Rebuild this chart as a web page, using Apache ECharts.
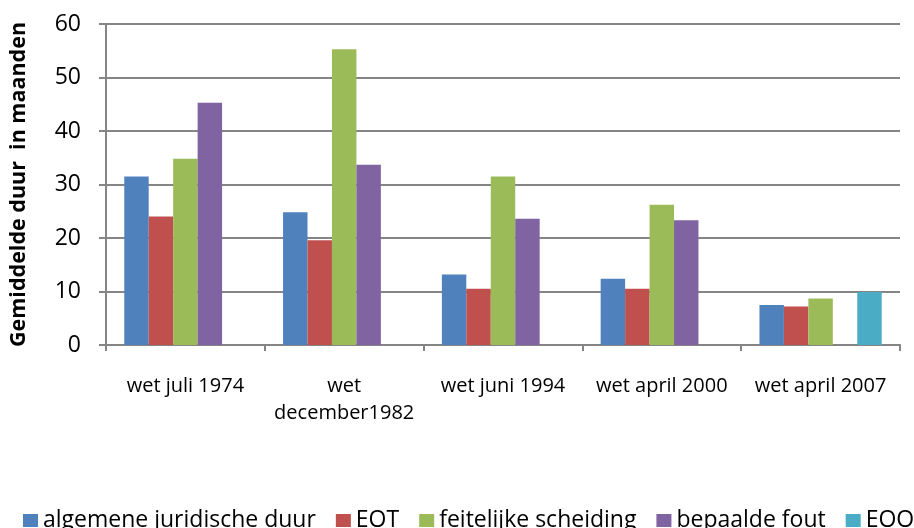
<!DOCTYPE html>
<html>
<head>
<meta charset="utf-8">
<script src="https://cdn.jsdelivr.net/npm/echarts@6/dist/echarts.min.js"></script>
<style>
  html, body { margin: 0; padding: 0; background: #fff; }
  #chart { width: 914px; height: 528px; }
</style>
</head>
<body>
<div id="chart"></div>
<script>
// categories (wetgeving) and durations in months
const categories = ['wet juli 1974', 'wet\ndecember1982', 'wet juni 1994', 'wet april 2000', 'wet april 2007'];
const algemeen = [31.5, 24.8, 13.2, 12.4, 7.5];
const eot = [24.0, 19.6, 10.5, 10.5, 7.2];
const feitelijk = [34.8, 55.3, 31.5, 26.2, 8.7];
const fout = [45.3, 33.7, 23.6, 23.3, null];
const eoo = [null, null, null, null, 9.9];
const seriesNames = ['algemene juridische duur', 'EOT', 'feitelijke scheiding', 'bepaalde fout', 'EOO'];
const colors = ['#4F81BD', '#C0504D', '#9BBB59', '#8064A2', '#4BACC6'];

const font = 'Open Sans';
const grey = '#858585';

const chart = echarts.init(document.getElementById('chart'));

const option = {
  animation: false,
  color: colors,
  grid: { left: 106, right: 14, top: 24, bottom: 183 },
  legend: {
    left: 18,
    top: 504,
    width: 2000,
    icon: 'rect',
    itemWidth: 15,
    itemHeight: 13,
    itemGap: 20,
    textStyle: { fontFamily: font, fontSize: 23, color: '#000' },
    data: seriesNames
  },
  xAxis: {
    type: 'category',
    data: categories,
    axisLine: { lineStyle: { color: grey, width: 2 } },
    axisTick: { show: true, length: 6, lineStyle: { color: grey, width: 2 } },
    axisLabel: { fontFamily: font, fontSize: 20, color: '#000', margin: 28, lineHeight: 27, interval: 0 }
  },
  yAxis: {
    type: 'value',
    min: 0,
    max: 60,
    interval: 10,
    name: 'Gemiddelde duur  in maanden',
    nameLocation: 'middle',
    nameGap: 76,
    nameTextStyle: { fontFamily: font, fontSize: 21.5, fontWeight: 'bold', color: '#000' },
    axisLine: { show: true, lineStyle: { color: grey, width: 2 } },
    axisTick: { show: true, length: 7, lineStyle: { color: grey, width: 2 } },
    axisLabel: { fontFamily: font, fontSize: 23, color: '#000', margin: 25 },
    splitLine: { lineStyle: { color: grey, width: 2 } }
  },
  series: [
    { name: seriesNames[0], type: 'bar', data: algemeen },
    { name: seriesNames[1], type: 'bar', data: eot },
    { name: seriesNames[2], type: 'bar', data: feitelijk },
    { name: seriesNames[3], type: 'bar', data: fout },
    { name: seriesNames[4], type: 'bar', data: eoo }
  ].map(s => Object.assign(s, { barGap: '0%', barCategoryGap: '23%' }))
};

chart.setOption(option);
</script>
</body>
</html>
